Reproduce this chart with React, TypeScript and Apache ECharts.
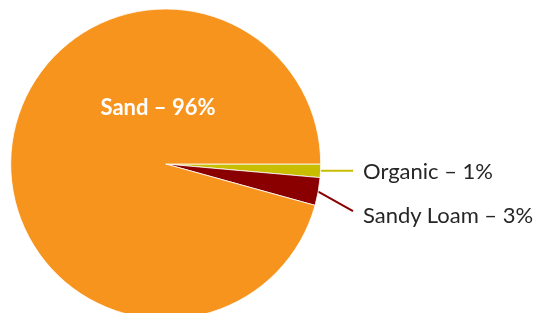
import React, { useEffect, useRef } from "react";
import * as echarts from "echarts";

const categories = ["Organic", "Sandy Loam", "Sand"];
const shares = [1.4, 2.9, 95.7];
const colors = ["#C9BD00", "#8A0000", "#F7941E"];

// label placement (offsets relative to each slice's edge point)
const LABEL_X = 363;
const LINE_END_X = 353;
const LABEL_DY = [-0.5, 23];
const LINE_END_DY = [0, 19.5];
const SAND_LABEL_POS = [158, 106];

export default function App() {
  const ref = useRef<HTMLDivElement>(null);
  useEffect(() => {
    if (!ref.current) return;
    const chart = echarts.init(ref.current, undefined, { renderer: "svg" });
    const data = categories.map((name, i) => ({
      name,
      value: shares[i],
      itemStyle: { color: colors[i] },
      label:
        i === 2
          ? {
              position: "inside",
              color: "#ffffff",
              fontWeight: "bold",
              fontSize: 22,
            }
          : { position: "outside", color: "#262626", fontSize: 22 },
      labelLine: { show: i !== 2 },
    }));
    chart.setOption({
      animation: false,
      series: [
        {
          type: "pie",
          center: [165.7, 164],
          radius: [0, 155],
          startAngle: 0,
          clockwise: true,
          avoidLabelOverlap: false,
          itemStyle: { borderColor: "#ffffff", borderWidth: 0.8 },
          label: {
            fontFamily: "Lato",
            formatter: (p: any) => `${p.name} – ${Math.round(p.value)}%`,
          },
          labelLine: { show: true, length: 10, length2: 20, lineStyle: { width: 2 } },
          labelLayout: (p: any) => {
            if (p.dataIndex === 2) {
              return { x: SAND_LABEL_POS[0], y: SAND_LABEL_POS[1] };
            }
            const pts = p.labelLinePoints;
            if (!pts) return {};
            const e = pts[0];
            const i = p.dataIndex;
            const end = [LINE_END_X, e[1] + LINE_END_DY[i]];
            return {
              x: LABEL_X,
              y: e[1] + LABEL_DY[i],
              align: "left",
              verticalAlign: "middle",
              labelLinePoints: [e, end, end],
            };
          },
          data,
        },
      ],
    });
    return () => chart.dispose();
  }, []);
  return (
    <div
      ref={ref}
      style={{ position: "fixed", left: 0, top: 0, width: 535, height: 313 }}
    />
  );
}
